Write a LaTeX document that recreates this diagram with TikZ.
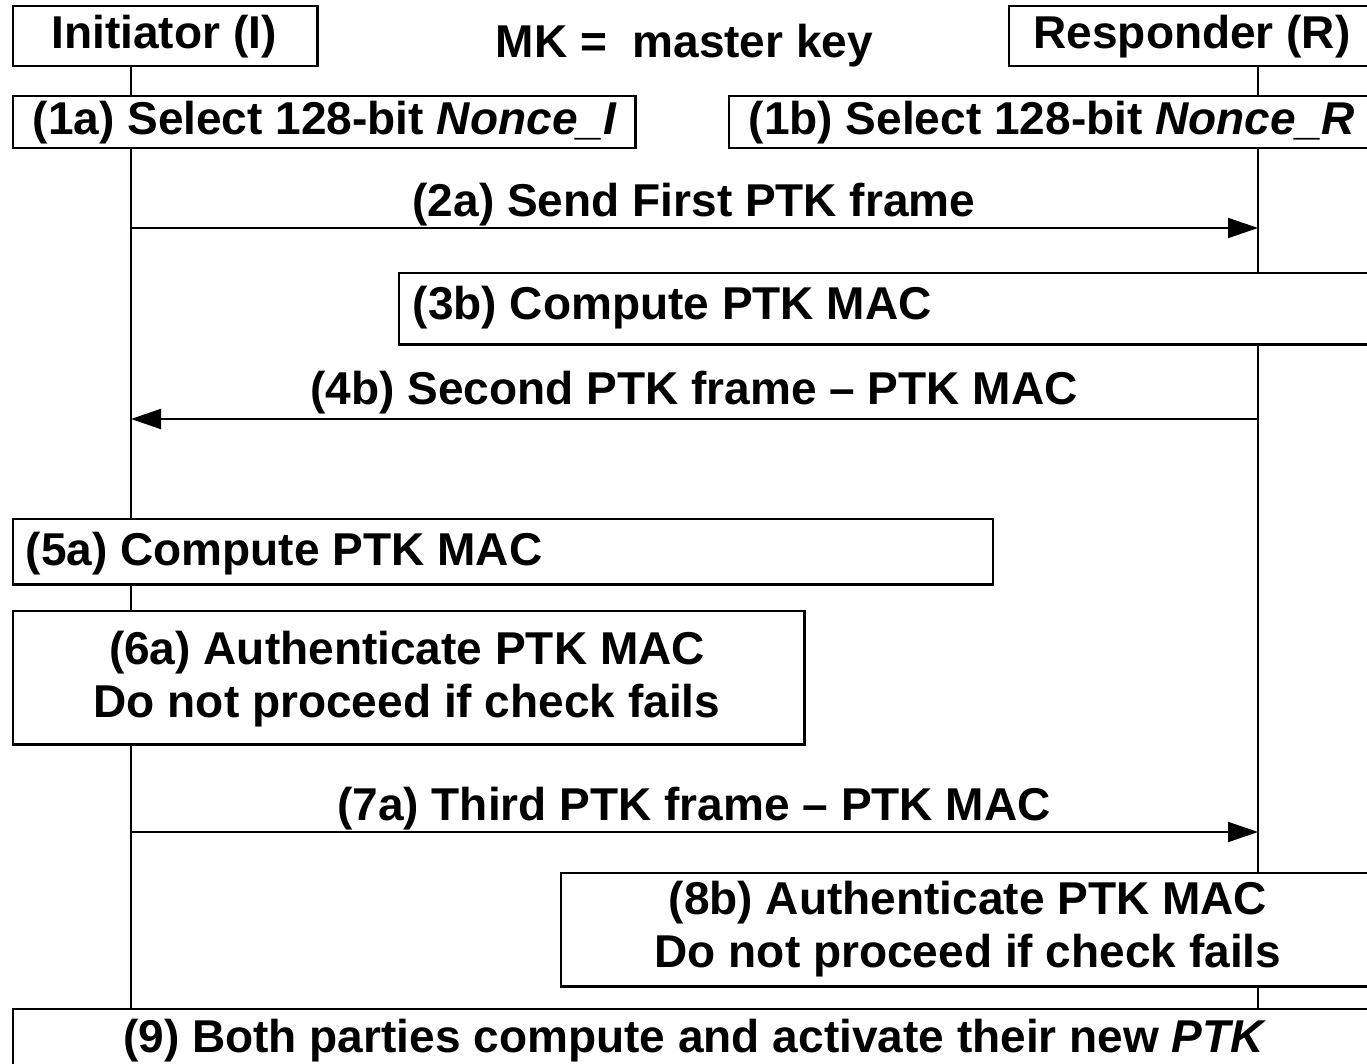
\documentclass[tikz,border=0pt]{standalone}
\usepackage{fontspec}
\setmainfont{Liberation Sans}
\usetikzlibrary{arrows.meta}
\begin{document}
\begin{tikzpicture}[x=0.01cm,y=-0.01cm,
  box/.style={draw=black, line width=0.7pt, inner sep=0pt, anchor=north west},
  txt/.style={inner sep=0pt, font=\fontsize{13.09pt}{14.8pt}\selectfont\bfseries},
  life/.style={draw=black, line width=0.6pt},
  msg/.style={draw=black, line width=0.6pt, -{Triangle[length=0.3cm,width=0.2cm]}}]
\fill[white] (0,0) rectangle (1367,1064);
\clip (0,0) rectangle (1367,1064);
% lifeline x positions
\coordinate (Ix) at (131,0);
\coordinate (Rx) at (1258,0);
% boxes
\node[box, minimum width=3.04cm, minimum height=0.60cm] (Ibox) at (12,5) {};
\node[box, minimum width=3.72cm, minimum height=0.60cm] (Rbox) at (1008,5) {};
\node[box, minimum width=6.22cm, minimum height=0.52cm] (b1a) at (12,95) {};
\node[box, minimum width=6.52cm, minimum height=0.52cm] (b1b) at (728,95) {};
\node[box, minimum width=9.82cm, minimum height=0.71cm] (b3b) at (398,272) {};
\node[box, minimum width=9.79cm, minimum height=0.65cm] (b5a) at (12,518) {};
\node[box, minimum width=7.91cm, minimum height=1.33cm] (b6a) at (12,610) {};
\node[box, minimum width=8.20cm, minimum height=1.13cm] (b8b) at (560,872) {};
\node[box, minimum width=13.68cm, minimum height=0.67cm] (b9) at (12,1008) {};
% texts
\node[txt, anchor=base] (tI) at (164,49) {Initiator (I)};
\node[txt, anchor=base west] (tMK) at (495,58) {MK =\ \ master key};
\node[txt, anchor=base] (tR) at (1192,49) {Responder (R)};
\node[txt, anchor=base west] (t1a) at (32,135) {(1a) Select 128-bit \textit{Nonce\_I}};
\node[txt, anchor=base west] (t1b) at (748,135) {(1b) Select 128-bit \textit{Nonce\_R}};
\node[txt, anchor=base west] (t3b) at (412,320) {(3b) Compute PTK MAC};
\node[txt, anchor=base west] (t5a) at (25,565) {(5a) Compute PTK MAC};
\node[txt, anchor=base, align=center] (t6a) at (407,717) {(6a) Authenticate PTK MAC\\Do not proceed if check fails};
\node[txt, anchor=base, align=center] (t8b) at (968,967) {(8b) Authenticate PTK MAC\\Do not proceed if check fails};
\node[txt, anchor=base] (t9) at (695,1052) {(9) Both parties compute and activate their new \textit{PTK}};
% lifelines
\draw[life] (Ibox.south -| Ix) -- (b1a.north -| Ix);
\draw[life] (b1a.south -| Ix) -- (b5a.north -| Ix);
\draw[life] (b5a.south -| Ix) -- (b6a.north -| Ix);
\draw[life] (b6a.south -| Ix) -- (b9.north -| Ix);
\draw[life] (Rbox.south -| Rx) -- (b1b.north -| Rx);
\draw[life] (b1b.south -| Rx) -- (b3b.north -| Rx);
\draw[life] (b3b.south -| Rx) -- (b8b.north -| Rx);
\draw[life] (b8b.south -| Rx) -- (b9.north -| Rx);
% messages
\coordinate (m2s) at (131,228);
\coordinate (m2e) at (1258,228);
\draw[msg] (m2s) -- (m2e);
\node[txt, anchor=base] (t2a) at (694,217) {(2a) Send First PTK frame};
\coordinate (m4s) at (1258,419);
\coordinate (m4e) at (131,419);
\draw[msg] (m4s) -- (m4e);
\node[txt, anchor=base] (t4b) at (694,404) {(4b) Second PTK frame \textendash{} PTK MAC};
\coordinate (m7s) at (131,832);
\coordinate (m7e) at (1258,832);
\draw[msg] (m7s) -- (m7e);
\node[txt, anchor=base] (t7a) at (694,820) {(7a) Third PTK frame \textendash{} PTK MAC};
\end{tikzpicture}
\end{document}
